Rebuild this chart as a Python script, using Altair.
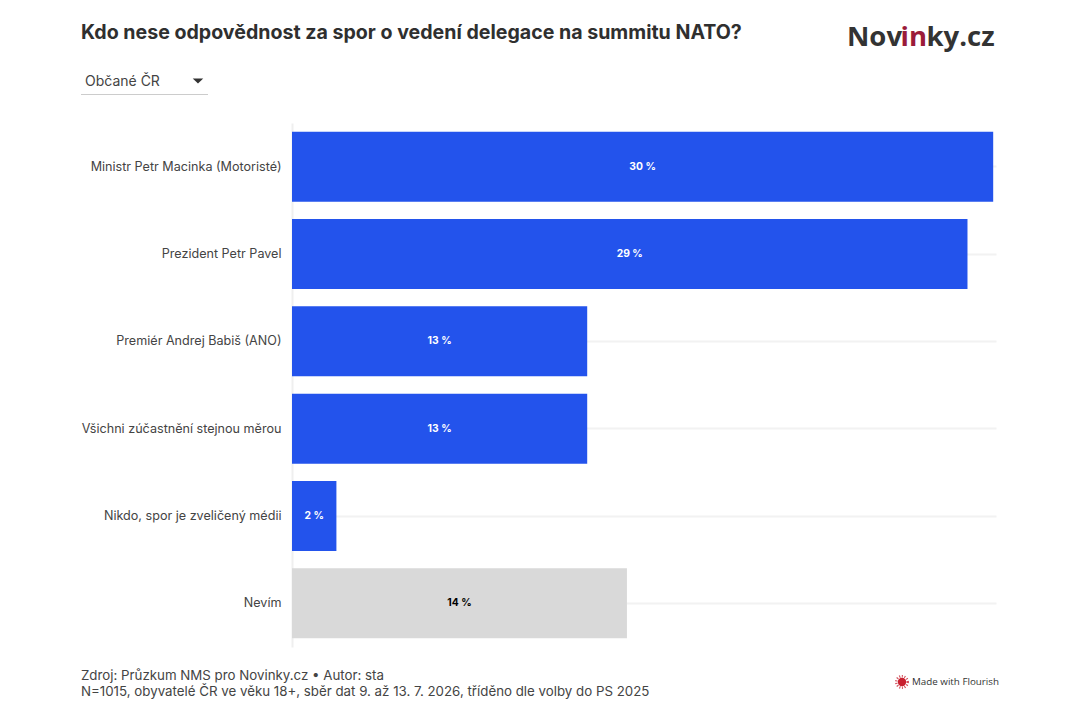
import altair as alt
import pandas as pd

categories = ["Ministr Petr Macinka (Motoristé)", "Prezident Petr Pavel", "Premiér Andrej Babiš (ANO)",
              "Všichni zúčastnění stejnou měrou", "Nikdo, spor je zveličený médii", "Nevím"]
values = [30.0, 28.9, 12.63, 12.63, 1.9, 14.33]
labels = ["30 %", "29 %", "13 %", "13 %", "2 %", "14 %"]
bar_colors = ["#2353EC", "#2353EC", "#2353EC", "#2353EC", "#2353EC", "#D9D9D9"]
label_colors = ["#FFFFFF", "#FFFFFF", "#FFFFFF", "#FFFFFF", "#FFFFFF", "#000000"]

TITLE = "Kdo nese odpovědnost za spor o vedení delegace na summitu NATO?"
DROPDOWN = "Občané ČR"
FOOTER_1 = "Zdroj: Průzkum NMS pro Novinky.cz • Autor: sta"
FOOTER_2 = "N=1015, obyvatelé ČR ve věku 18+, sběr dat 9. až 13. 7. 2026, tříděno dle volby do PS 2025"
FLOURISH = "Made with Flourish"

OX, OY = 292, 123  # plot origin in page pixels
W, H = 704, 524
FONT = "Inter"

df = pd.DataFrame({"cat": categories, "val": values, "label": labels,
                   "bar": bar_colors, "lab": label_colors})

y = alt.Y("cat:N", sort=categories, title=None,
          scale=alt.Scale(paddingInner=0.2, paddingOuter=0.1),
          axis=alt.Axis(grid=True, gridColor="#F2F2F2", gridWidth=2, ticks=False,
                        domainColor="#EFEFEF", domainWidth=2, labelFont=FONT, labelFontSize=12.6,
                        labelColor="#444444", labelPadding=11, labelLimit=260))

bars = alt.Chart(df).mark_bar(size=70).encode(
    y=y,
    x=alt.X("val:Q", title=None, axis=None, scale=alt.Scale(domain=[0, 30.12], nice=False)),
    color=alt.Color("bar:N", scale=None),
)

vals = alt.Chart(df).transform_calculate(mid="datum.val / 2").mark_text(
    font=FONT, fontSize=10.3, fontWeight=700, align="center", baseline="middle"
).encode(
    y=alt.Y("cat:N", sort=categories),
    x=alt.X("mid:Q"),
    text="label:N",
    color=alt.Color("lab:N", scale=None),
)


def txt(s, px, py, size, color, weight=400, font=FONT, align="left"):
    return alt.Chart(pd.DataFrame({"t": [s]})).mark_text(
        font=font, fontSize=size, fontWeight=weight, color=color, align=align, baseline="middle"
    ).encode(x=alt.value(px - OX), y=alt.value(py - OY), text="t:N")


title = txt(TITLE, 81, 33, 19.6, "#2F2F2F", 700)
dropdown = txt(DROPDOWN, 85, 81.5, 14, "#444444")
tri = alt.Chart(pd.DataFrame({"a": [0]})).mark_point(
    shape="M-1,-0.5L1,-0.5L0,0.5Z", filled=True, color="#333333", opacity=1, size=110
).encode(x=alt.value(198 - OX), y=alt.value(81 - OY))
drop_rule = alt.Chart(pd.DataFrame({"a": [0]})).mark_rule(color="#CCCCCC", strokeWidth=1).encode(
    x=alt.value(81 - OX), x2=alt.value(208 - OX), y=alt.value(94.5 - OY))

logo_font = "Open Sans"
logo = [txt("Nov", 847, 37.5, 27.5, "#333333", 700, logo_font),
        txt("in", 900.5, 37.5, 27.5, "#9B1B3A", 700, logo_font),
        txt("ky.cz", 926.5, 37.5, 27.5, "#333333", 700, logo_font)]

foot1 = txt(FOOTER_1, 81, 676, 13.3, "#444444")
foot2 = txt(FOOTER_2, 81, 692, 13.3, "#444444")
flourish_text = txt(FLOURISH, 912, 682, 9.8, "#333333", 400, "Open Sans")
sun = alt.Chart(pd.DataFrame({"a": [0]})).mark_point(
    shape="circle", filled=True, color="#C8202F", opacity=1, size=70
).encode(x=alt.value(902 - OX), y=alt.value(682 - OY))
sun2 = alt.Chart(pd.DataFrame({"a": [0]})).mark_point(
    shape="circle", filled=False, color="#C8202F", opacity=0.8, size=130, strokeWidth=2.5, strokeDash=[1, 1.6]
).encode(x=alt.value(902 - OX), y=alt.value(682 - OY))

chart = alt.layer(
    bars, vals, title, dropdown, tri, drop_rule, *logo, foot1, foot2, sun2, sun, flourish_text
).properties(
    width=W, height=H, background="#FFFFFF",
    autosize=alt.AutoSizeParams(type="none"),
    padding={"left": OX - 8, "top": OY - 8, "right": 1064 - (OX - 8) - W, "bottom": 700 - (OY - 8) - H},
).configure_view(stroke=None)

chart.save("out.html", embed_options={"renderer": "svg", "actions": False})
